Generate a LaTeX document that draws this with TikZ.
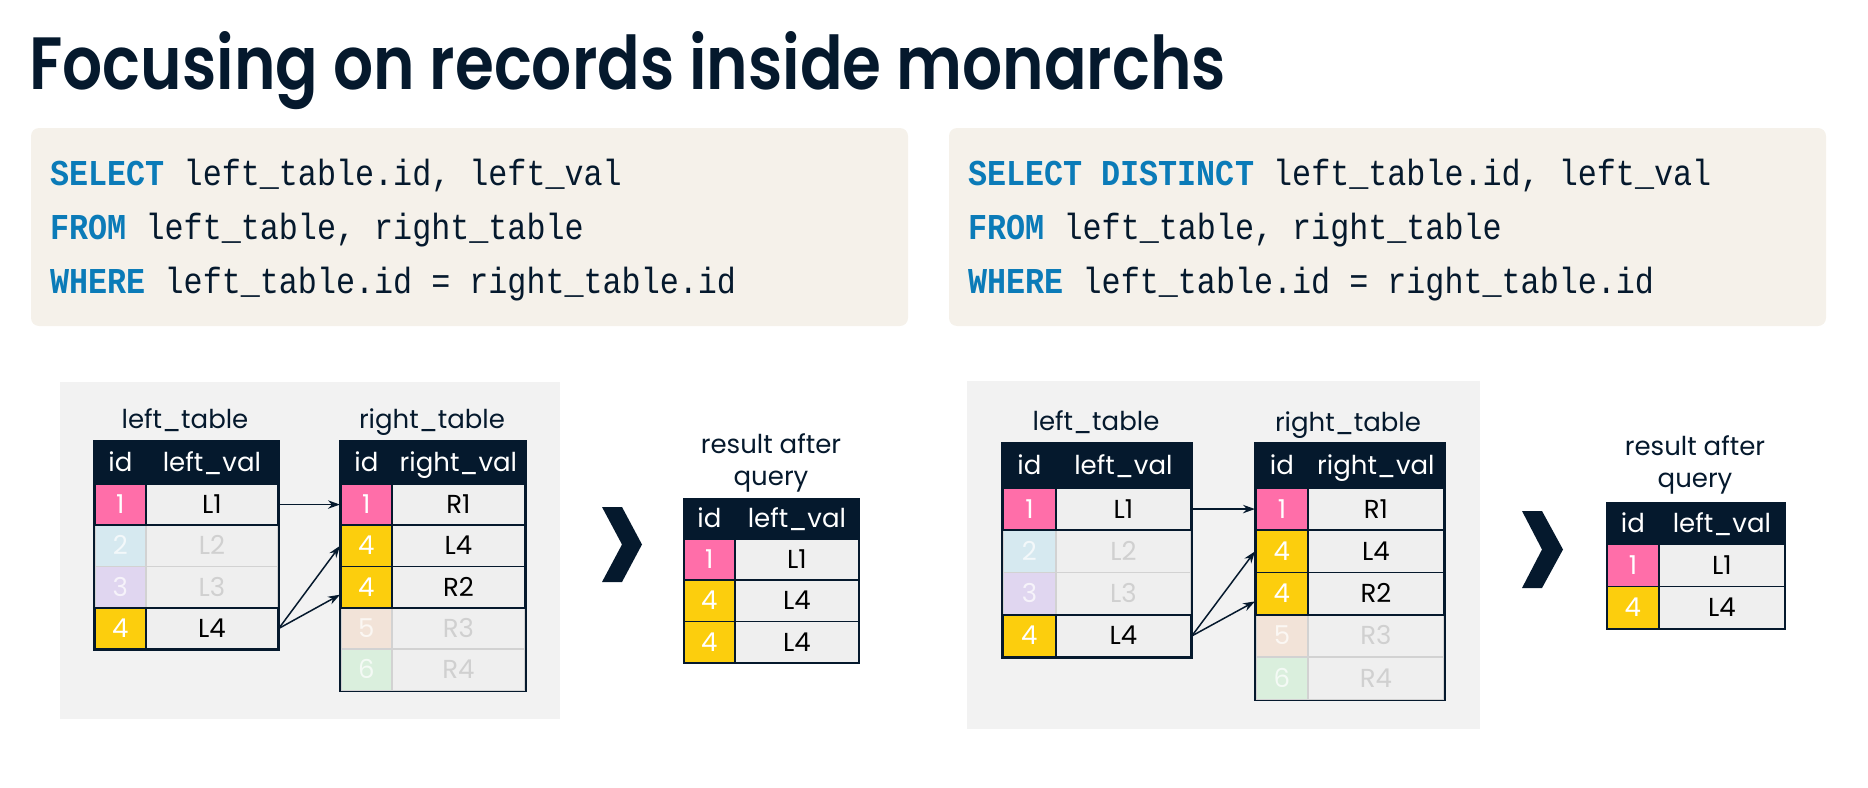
\documentclass[tikz,border=0pt]{standalone}
\usepackage{fontspec}
\setmainfont{Poppins}
\newfontfamily\titlefont[FakeStretch=0.85, BoldFont={* SemiBold}]{Poppins}
\newfontfamily\codefont[FakeStretch=0.872]{Liberation Mono}
\usetikzlibrary{arrows.meta,calc}

\definecolor{navy}{HTML}{05192D}
\definecolor{kwblue}{HTML}{0B7BB8}
\definecolor{codebg}{HTML}{F5F1EA}
\definecolor{panelbg}{HTML}{F2F2F2}
\definecolor{cellbg}{HTML}{EFEFEF}
\definecolor{idpink}{HTML}{FF6EA9}
\definecolor{idyellow}{HTML}{FCCE0D}
\definecolor{fadeblue}{HTML}{D6E9F0}
\definecolor{fadelilac}{HTML}{E0D6F0}
\definecolor{fadepeach}{HTML}{F2E3D8}
\definecolor{fadegreen}{HTML}{DAEFDD}
\definecolor{fadeline}{HTML}{D2D2D2}
\definecolor{fadetext}{HTML}{D0D0D0}

\newcommand{\kw}[1]{{\bfseries\color{kwblue}#1}}

\tikzset{
  codebox/.style={fill=codebg, rounded corners=4pt},
  panel/.style={fill=panelbg},
  codeline/.style={anchor=base west, inner sep=0pt, text=navy,
    font=\codefont\fontsize{18.2}{21}\selectfont},
  tlabel/.style={anchor=base, inner sep=0pt, text=navy,
    font=\fontsize{13}{16}\selectfont},
  cell/.style={anchor=north west, inner sep=0pt, line width=0.9pt,
    text height=9pt, text depth=0pt, font=\fontsize{13}{15}\selectfont},
  hdr/.style={cell, fill=navy, draw=navy, text=white},
  idon/.style={cell, draw=navy, text=white},
  valon/.style={cell, draw=navy, fill=cellbg, text=black},
  idoff/.style={cell, draw=fadeline, text=white!70!#1, fill=#1},
  valoff/.style={cell, draw=fadeline, fill=cellbg, text=fadetext},
  frame/.style={draw=navy, line width=0.8pt},
  conn/.style={draw=navy, line width=0.75pt, -{Stealth[length=6pt,width=4.2pt]}},
  chevron/.style={fill=navy},
}

\begin{document}
\begin{tikzpicture}[x=0.5pt,y=-0.5pt]
\useasboundingbox (0,0) rectangle (1868,787);

% ---------- title ----------
\node[anchor=base west, inner sep=0pt, text=navy,
  font=\titlefont\fontsize{37}{44}\selectfont\bfseries] (title) at (29,89)
  {Focusing on records inside monarchs};

% ---------- query boxes ----------
\path[codebox] (31,128) rectangle (908,326);
\node[codeline] (qa1) at (50,185) {\kw{SELECT} left\_table.id, left\_val};
\node[codeline] (qa2) at (50,239) {\kw{FROM} left\_table, right\_table};
\node[codeline] (qa3) at (50,293) {\kw{WHERE} left\_table.id = right\_table.id};

\path[codebox] (949,128) rectangle (1826,326);
\node[codeline] (qb1) at (968,185) {\kw{SELECT DISTINCT} left\_table.id, left\_val};
\node[codeline] (qb2) at (968,239) {\kw{FROM} left\_table, right\_table};
\node[codeline] (qb3) at (968,293) {\kw{WHERE} left\_table.id = right\_table.id};

% ---------- left example: plain join ----------
\path[panel] (60,382) rectangle (560,719);

\node[tlabel] (aname) at (185,428) {left\_table};
\node[tlabel] (bname) at (432,428) {right\_table};

% left_table
\node[hdr, minimum width=25.5pt, minimum height=21pt] (aHid) at (94,441) {id};
\node[hdr, minimum width=66pt, minimum height=21pt] (aHv) at (145,441) {left\_val};
\node[idoff=fadeblue, minimum width=25.5pt, minimum height=20.65pt] (aI2) at (94,524.3) {2};
\node[valoff, minimum width=66pt, minimum height=20.65pt] (aV2) at (145,524.3) {L2};
\node[idoff=fadelilac, minimum width=25.5pt, minimum height=20.65pt] (aI3) at (94,565.6) {3};
\node[valoff, minimum width=66pt, minimum height=20.65pt] (aV3) at (145,565.6) {L3};
\node[idon, fill=idpink, minimum width=25.5pt, minimum height=20.65pt] (aI1) at (94,483) {1};
\node[valon, minimum width=66pt, minimum height=20.65pt] (aV1) at (145,483) {L1};
\node[idon, fill=idyellow, minimum width=25.5pt, minimum height=20.65pt] (aI4) at (94,606.9) {4};
\node[valon, minimum width=66pt, minimum height=20.65pt] (aV4) at (145,606.9) {L4};
\draw[frame] (aHid.north west) rectangle (aV4.south east);

% right_table
\node[hdr, minimum width=25.5pt, minimum height=21pt] (bHid) at (340,441) {id};
\node[hdr, minimum width=66.5pt, minimum height=21pt] (bHv) at (391,441) {right\_val};
\node[idoff=fadepeach, minimum width=25.5pt, minimum height=20.65pt] (bI5) at (340,606.9) {5};
\node[valoff, minimum width=66.5pt, minimum height=20.65pt] (bV5) at (391,606.9) {R3};
\node[idoff=fadegreen, minimum width=25.5pt, minimum height=20.65pt] (bI6) at (340,648.2) {6};
\node[valoff, minimum width=66.5pt, minimum height=20.65pt] (bV6) at (391,648.2) {R4};
\node[idon, fill=idpink, minimum width=25.5pt, minimum height=20.65pt] (bI1) at (340,483) {1};
\node[valon, minimum width=66.5pt, minimum height=20.65pt] (bV1) at (391,483) {R1};
\node[idon, fill=idyellow, minimum width=25.5pt, minimum height=20.65pt] (bI2) at (340,524.3) {4};
\node[valon, minimum width=66.5pt, minimum height=20.65pt] (bV2) at (391,524.3) {L4};
\node[idon, fill=idyellow, minimum width=25.5pt, minimum height=20.65pt] (bI3) at (340,565.6) {4};
\node[valon, minimum width=66.5pt, minimum height=20.65pt] (bV3) at (391,565.6) {R2};
\draw[frame] (bHid.north west) rectangle (bV6.south east);

% matching rows
\draw[conn] (aV1.east) -- (bI1.west);
\draw[conn] (aV4.east) -- (bI2.west);
\draw[conn] (aV4.east) -- ($(bI3.west)!0.35!(bI3.south west)$);

% arrow to the result
\fill[chevron] (602,507) -- (622,507) -- (642,544.5) -- (622,582) -- (602,582) -- (622,544.5) -- cycle;

% result
\node[tlabel, anchor=north, align=center] (cname) at (771,433) {result after\\query};
\node[hdr, minimum width=25.5pt, minimum height=20pt] (cHid) at (683,498) {id};
\node[hdr, minimum width=62pt, minimum height=20pt] (cHv) at (734,498) {left\_val};
\node[idon, fill=idpink, minimum width=25.5pt, minimum height=20.65pt] (cI1) at (683,538) {1};
\node[valon, minimum width=62pt, minimum height=20.65pt] (cV1) at (734,538) {L1};
\node[idon, fill=idyellow, minimum width=25.5pt, minimum height=20.65pt] (cI2) at (683,579.3) {4};
\node[valon, minimum width=62pt, minimum height=20.65pt] (cV2) at (734,579.3) {L4};
\node[idon, fill=idyellow, minimum width=25.5pt, minimum height=20.65pt] (cI3) at (683,620.6) {4};
\node[valon, minimum width=62pt, minimum height=20.65pt] (cV3) at (734,620.6) {L4};

% ---------- right example: DISTINCT ----------
\path[panel] (967,381) rectangle (1480,729);

\node[tlabel] (dname) at (1096,430) {left\_table};
\node[tlabel] (ename) at (1348,431) {right\_table};

% left_table
\node[hdr, minimum width=26.5pt, minimum height=22pt] (dHid) at (1002,443) {id};
\node[hdr, minimum width=67.5pt, minimum height=22pt] (dHv) at (1055,443) {left\_val};
\node[idoff=fadeblue, minimum width=26.5pt, minimum height=21.15pt] (dI2) at (1002,529.3) {2};
\node[valoff, minimum width=67.5pt, minimum height=21.15pt] (dV2) at (1055,529.3) {L2};
\node[idoff=fadelilac, minimum width=26.5pt, minimum height=21.15pt] (dI3) at (1002,571.6) {3};
\node[valoff, minimum width=67.5pt, minimum height=21.15pt] (dV3) at (1055,571.6) {L3};
\node[idon, fill=idpink, minimum width=26.5pt, minimum height=21.15pt] (dI1) at (1002,487) {1};
\node[valon, minimum width=67.5pt, minimum height=21.15pt] (dV1) at (1055,487) {L1};
\node[idon, fill=idyellow, minimum width=26.5pt, minimum height=21.15pt] (dI4) at (1002,613.9) {4};
\node[valon, minimum width=67.5pt, minimum height=21.15pt] (dV4) at (1055,613.9) {L4};
\draw[frame] (dHid.north west) rectangle (dV4.south east);

% right_table
\node[hdr, minimum width=26pt, minimum height=22pt] (eHid) at (1255,443) {id};
\node[hdr, minimum width=68pt, minimum height=22pt] (eHv) at (1307,443) {right\_val};
\node[idoff=fadepeach, minimum width=26pt, minimum height=21.15pt] (eI5) at (1255,613.9) {5};
\node[valoff, minimum width=68pt, minimum height=21.15pt] (eV5) at (1307,613.9) {R3};
\node[idoff=fadegreen, minimum width=26pt, minimum height=21.15pt] (eI6) at (1255,656.2) {6};
\node[valoff, minimum width=68pt, minimum height=21.15pt] (eV6) at (1307,656.2) {R4};
\node[idon, fill=idpink, minimum width=26pt, minimum height=21.15pt] (eI1) at (1255,487) {1};
\node[valon, minimum width=68pt, minimum height=21.15pt] (eV1) at (1307,487) {R1};
\node[idon, fill=idyellow, minimum width=26pt, minimum height=21.15pt] (eI2) at (1255,529.3) {4};
\node[valon, minimum width=68pt, minimum height=21.15pt] (eV2) at (1307,529.3) {L4};
\node[idon, fill=idyellow, minimum width=26pt, minimum height=21.15pt] (eI3) at (1255,571.6) {4};
\node[valon, minimum width=68pt, minimum height=21.15pt] (eV3) at (1307,571.6) {R2};
\draw[frame] (eHid.north west) rectangle (eV6.south east);

% matching rows
\draw[conn] (dV1.east) -- (eI1.west);
\draw[conn] (dV4.east) -- (eI2.west);
\draw[conn] (dV4.east) -- ($(eI3.west)!0.35!(eI3.south west)$);

% arrow to the result
\fill[chevron] (1522,511) -- (1542,511) -- (1563,549.5) -- (1542,588) -- (1522,588) -- (1542,549.5) -- cycle;

% result
\node[tlabel, anchor=north, align=center] (fname) at (1695,435) {result after\\query};
\node[hdr, minimum width=26pt, minimum height=20.5pt] (fHid) at (1606,502) {id};
\node[hdr, minimum width=63pt, minimum height=20.5pt] (fHv) at (1658,502) {left\_val};
\node[idon, fill=idpink, minimum width=26pt, minimum height=21.25pt] (fI1) at (1606,543) {1};
\node[valon, minimum width=63pt, minimum height=21.25pt] (fV1) at (1658,543) {L1};
\node[idon, fill=idyellow, minimum width=26pt, minimum height=21.25pt] (fI2) at (1606,585.5) {4};
\node[valon, minimum width=63pt, minimum height=21.25pt] (fV2) at (1658,585.5) {L4};
\end{tikzpicture}
\end{document}
